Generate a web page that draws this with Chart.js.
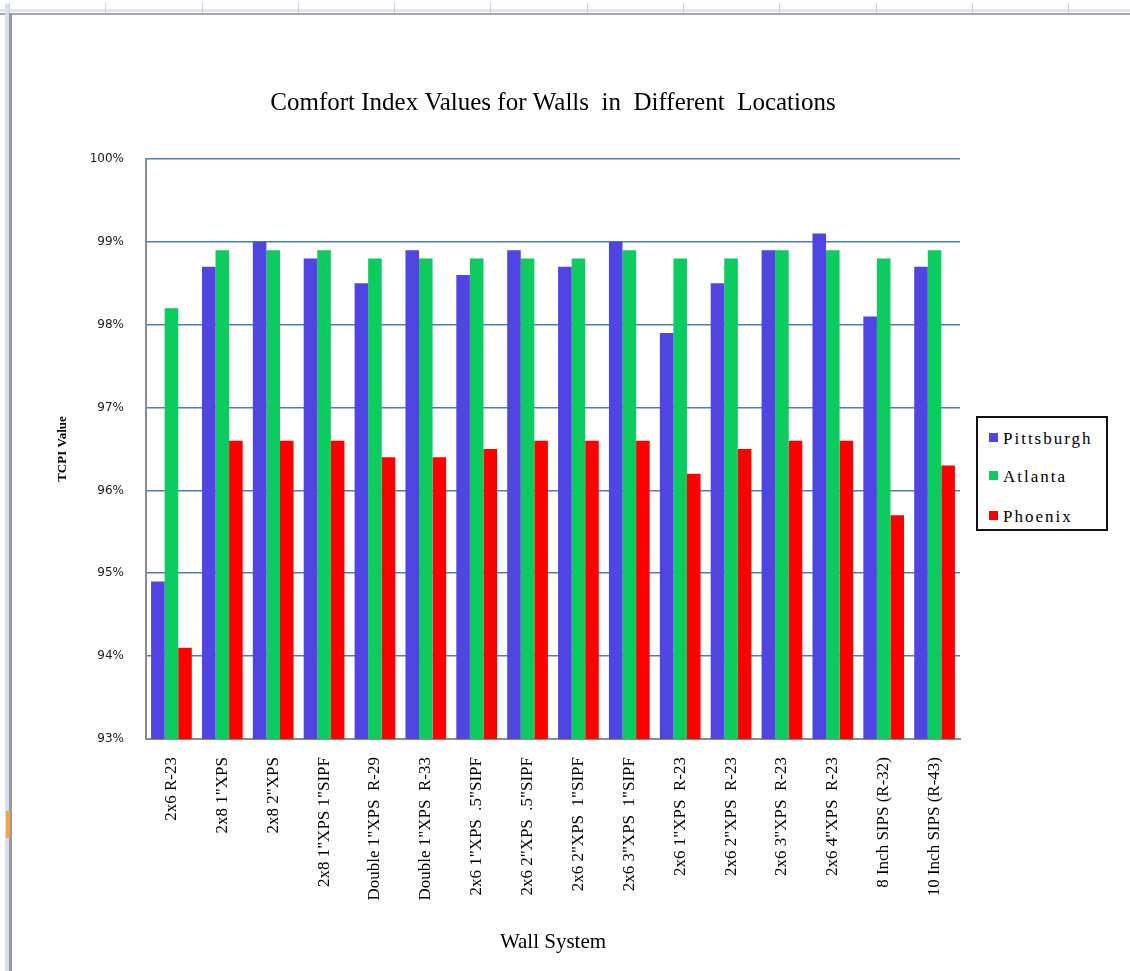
<!DOCTYPE html>
<html>
<head>
<meta charset="utf-8">
<script src="https://cdn.jsdelivr.net/npm/chart.js@4.4.1/dist/chart.umd.min.js"></script>
<style>
html, body { margin: 0; padding: 0; background: #fff; }
#wrap { position: relative; width: 1130px; height: 971px; overflow: hidden; background: #fff; }
#c { position: absolute; left: 0; top: 0; }
#topband { position: absolute; left: 0; top: 0; width: 1130px; height: 13px; background: #fff; border-bottom: 2px solid #a6a6a6; }
#topband .hl { position: absolute; left: 0; right: 0; top: 9px; height: 3px; background: #dfe6ef; }
#topband .tk { position: absolute; top: 3px; width: 1px; height: 10px; background: #c9d3e0; }
#leftband { position: absolute; left: 5px; top: 4px; width: 4px; height: 967px; background: #d6e0ec; }
#leftline { position: absolute; left: 9px; top: 13px; width: 3px; height: 958px; background: #9a9a9a; }
#orange { position: absolute; left: 6px; top: 811px; width: 4px; height: 27px; background: #f5a545; }
#legend { position: absolute; left: 976px; top: 416px; width: 128px; height: 111px; border: 2px solid #111; background: #fff; font-family: "Liberation Serif", "Times New Roman", serif; font-size: 17px; letter-spacing: 2px; color: #000; }
#legend .item { position: absolute; left: 11px; height: 22px; line-height: 22px; white-space: nowrap; }
#legend .sw { display: inline-block; width: 9px; height: 9px; margin-right: 5px; vertical-align: 2px; }
</style>
</head>
<body>
<div id="wrap">
  <div id="topband"><div class="hl"></div></div>
  <div id="leftband"></div>
  <div id="leftline"></div>
  <div id="orange"></div>
  <canvas id="c" width="1130" height="971"></canvas>
  <div id="legend"></div>
</div>
<script>
// ---- data ----
const categories = [
  '2x6 R-23',
  '2x8 1"XPS',
  '2x8 2"XPS',
  '2x8 1"XPS 1"SIPF',
  'Double 1"XPS  R-29',
  'Double 1"XPS  R-33',
  '2x6 1"XPS  .5"SIPF',
  '2x6 2"XPS  .5"SIPF',
  '2x6 2"XPS  1"SIPF',
  '2x6 3"XPS  1"SIPF',
  '2x6 1"XPS  R-23',
  '2x6 2"XPS  R-23',
  '2x6 3"XPS  R-23',
  '2x6 4"XPS  R-23',
  '8 Inch SIPS (R-32)',
  '10 Inch SIPS (R-43)'
];
const pittsburgh = [94.9, 98.7, 99.0, 98.8, 98.5, 98.9, 98.6, 98.9, 98.7, 99.0, 97.9, 98.5, 98.9, 99.1, 98.1, 98.7];
const atlanta    = [98.2, 98.9, 98.9, 98.9, 98.8, 98.8, 98.8, 98.8, 98.8, 98.9, 98.8, 98.8, 98.9, 98.9, 98.8, 98.9];
const phoenix    = [94.1, 96.6, 96.6, 96.6, 96.4, 96.4, 96.5, 96.6, 96.6, 96.6, 96.2, 96.5, 96.6, 96.6, 95.7, 96.3];
const seriesNames = ['Pittsburgh', 'Atlanta', 'Phoenix'];
const yTickValues = [93, 94, 95, 96, 97, 98, 99, 100];
const yTickLabels = ['93%', '94%', '95%', '96%', '97%', '98%', '99%', '100%'];
const titleText = 'Comfort Index Values for Walls  in  Different  Locations';
const xTitleText = 'Wall System';
const yTitleText = 'TCPI Value';

// ---- styles ----
const seriesColors = ['#4f45e3', '#0ccb5f', '#ff0000'];
const serif = '"Liberation Serif", "Times New Roman", serif';

const seriesData = [pittsburgh, atlanta, phoenix];
const datasets = seriesNames.map((name, i) => ({
  label: name,
  data: seriesData[i],
  backgroundColor: seriesColors[i],
  borderWidth: 0,
  categoryPercentage: 0.8,
  barPercentage: 1.0
}));

const chart = new Chart(document.getElementById('c'), {
  type: 'bar',
  data: { labels: categories, datasets },
  options: {
    responsive: false,
    animation: false,
    devicePixelRatio: 1,
    layout: { padding: { left: 0, right: 170, top: 0, bottom: 0 } },
    plugins: {
      legend: { display: false },
      tooltip: { enabled: false },
      title: {
        display: true,
        text: titleText,
        fullSize: false,
        color: '#000',
        font: { family: serif, size: 25, weight: 'normal' },
        padding: { top: 88, bottom: 41 }
      }
    },
    scales: {
      x: {
        grid: { display: false, drawTicks: false },
        border: { display: true, color: '#8c8c8c', width: 2 },
        ticks: {
          color: '#000',
          font: { family: serif, size: 17 },
          minRotation: 90,
          maxRotation: 90,
          autoSkip: false,
          padding: 18
        },
        title: {
          display: true,
          text: xTitleText,
          color: '#000',
          font: { family: serif, size: 21 },
          padding: { top: 0, bottom: 16 }
        },
        afterFit: s => { s.height = 232; }
      },
      y: {
        min: 93,
        max: 100,
        afterBuildTicks: s => { s.ticks = yTickValues.map(v => ({ value: v })); },
        grid: {
          drawTicks: false,
          color: c => (c.tick && c.tick.value === 93) ? 'rgba(0,0,0,0)' : '#4a7ebb',
          lineWidth: 1.6
        },
        border: { display: true, color: '#8c8c8c', width: 2 },
        ticks: {
          color: '#1a1a1a',
          font: { family: '"DejaVu Sans", sans-serif', size: 12 },
          padding: 22,
          callback: v => yTickLabels[yTickValues.indexOf(v)]
        },
        title: {
          display: true,
          text: yTitleText,
          color: '#000',
          font: { family: serif, size: 13, weight: 'bold' },
          padding: { top: 55, bottom: 0 }
        },
        afterFit: s => { s.width = 146; }
      }
    }
  }
});

// HTML legend built from the series arrays
const legendEl = document.getElementById('legend');
const rowTops = [10, 48, 88];
seriesNames.forEach((name, i) => {
  const d = document.createElement('div');
  d.className = 'item';
  d.style.top = rowTops[i] + 'px';
  const sw = document.createElement('span');
  sw.className = 'sw';
  sw.style.background = seriesColors[i];
  d.appendChild(sw);
  d.appendChild(document.createTextNode(name));
  legendEl.appendChild(d);
});

// top spreadsheet column ticks (decoration)
const tb = document.getElementById('topband');
[9, 105, 202, 298, 394, 490, 587, 683, 779, 876, 972, 1068].forEach(x => {
  const t = document.createElement('div');
  t.className = 'tk';
  t.style.left = x + 'px';
  tb.appendChild(t);
});
</script>
</body>
</html>
